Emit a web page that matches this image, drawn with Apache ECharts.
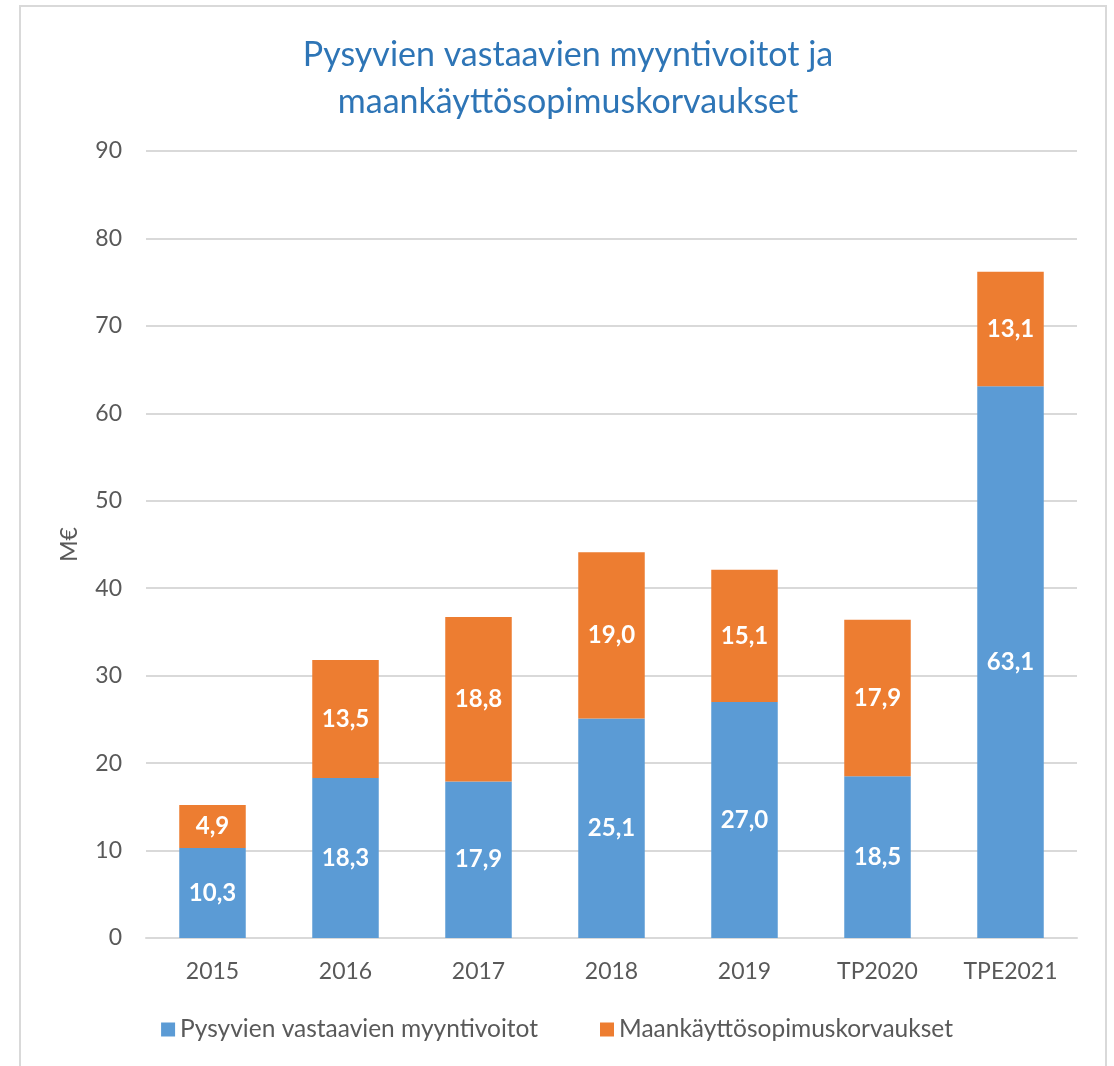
<!DOCTYPE html>
<html>
<head>
<meta charset="utf-8">
<style type="text/css">
    html, body { margin: 0; padding: 0; background: #fff; }
</style>
</head>
<body>
<div style="width: 1114px;height: 1066px;" id="chart"></div>
<script src="https://cdn.jsdelivr.net/npm/echarts@6/dist/echarts.min.js"></script>
<script>

let categories = ['2015', '2016', '2017', '2018', '2019', 'TP2020', 'TPE2021'];
let myyntivoitot = [10.3, 18.3, 17.9, 25.1, 27.0, 18.5, 63.1];
let korvaukset = [4.9, 13.5, 18.8, 19.0, 15.1, 17.9, 13.1];
let seriesNames = ['Pysyvien vastaavien myyntivoitot', 'Maankäyttösopimuskorvaukset'];

let chart = echarts.init(document.getElementById('chart'));

let font = 'Lato, "Open Sans", sans-serif';
let fmt = p => p.value.toFixed(1).replace('.', ',');

let barLabel = {
    show: true,
    position: 'inside',
    color: '#fff',
    fontWeight: 'bold',
    fontSize: 24,
    fontFamily: font,
    formatter: fmt
};

let option = {
    textStyle: {fontFamily: font},
    graphic: [{
        type: 'rect',
        shape: {x: 20, y: 6, width: 1086, height: 1080},
        style: {fill: 'none', stroke: '#d9d9d9', lineWidth: 2}
    }],
    title: {
        text: 'Pysyvien vastaavien myyntivoitot ja\nmaankäyttösopimuskorvaukset',
        left: 563,
        textAlign: 'center',
        top: 27,
        textStyle: {
            color: '#2e75b6',
            fontSize: 34,
            fontWeight: 'normal',
            lineHeight: 47,
            fontFamily: font
        }
    },
    legend: {
        bottom: 19,
        left: 'center',
        itemWidth: 14,
        itemHeight: 14,
        itemGap: 62,
        icon: 'rect',
        textStyle: {color: '#595959', fontSize: 24.5, fontFamily: font},
        data: seriesNames
    },
    grid: {
        left: 146,
        right: 37,
        top: 151,
        bottom: 128
    },
    xAxis: {
        type: 'category',
        data: categories,
        axisTick: {show: false},
        axisLine: {lineStyle: {color: '#d9d9d9', width: 2}},
        axisLabel: {color: '#595959', fontSize: 23, margin: 22}
    },
    yAxis: {
        type: 'value',
        min: 0,
        max: 90,
        interval: 10,
        name: 'M€',
        nameLocation: 'middle',
        nameGap: 65,
        nameTextStyle: {color: '#595959', fontSize: 23},
        axisLabel: {color: '#595959', fontSize: 23, margin: 24},
        splitLine: {lineStyle: {color: '#d9d9d9', width: 2}}
    },
    series: [{
        name: seriesNames[0],
        type: 'bar',
        stack: 'total',
        barWidth: '50%',
        itemStyle: {color: '#5b9bd5'},
        label: barLabel,
        data: myyntivoitot
    }, {
        name: seriesNames[1],
        type: 'bar',
        stack: 'total',
        barWidth: '50%',
        itemStyle: {color: '#ed7d31'},
        label: barLabel,
        data: korvaukset
    }]
};

chart.setOption(option);

</script>
</body>
</html>
